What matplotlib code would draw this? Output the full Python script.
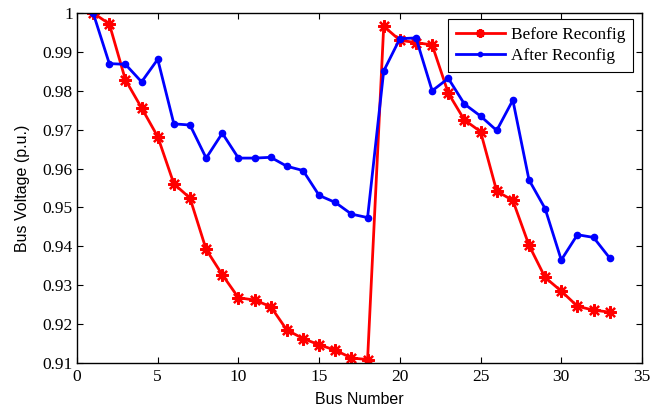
import numpy as np
import matplotlib.pyplot as plt

bus = list(range(1, 34))
before = [1.0000, 0.9972, 0.9828, 0.9756, 0.9682, 0.9561, 0.9524, 0.9392, 0.9327, 0.9268,
          0.9262, 0.9245, 0.9185, 0.9163, 0.9147, 0.9133, 0.9113, 0.9109, 0.9966, 0.9930,
          0.9924, 0.9918, 0.9794, 0.9725, 0.9695, 0.9542, 0.9518, 0.9403, 0.9320, 0.9285,
          0.9246, 0.9236, 0.9231]
after = [1.0000, 0.9870, 0.9868, 0.9823, 0.9881, 0.9715, 0.9712, 0.9627, 0.9691, 0.9627,
         0.9627, 0.9629, 0.9606, 0.9595, 0.9531, 0.9513, 0.9483, 0.9474, 0.9851, 0.9934,
         0.9936, 0.9800, 0.9832, 0.9766, 0.9735, 0.9698, 0.9776, 0.9571, 0.9497, 0.9365,
         0.9430, 0.9423, 0.9370]

xticks = [0, 5, 10, 15, 20, 25, 30, 35]
yticks = [0.91, 0.92, 0.93, 0.94, 0.95, 0.96, 0.97, 0.98, 0.99, 1.0]
ytick_labels = ['0.91', '0.92', '0.93', '0.94', '0.95', '0.96', '0.97', '0.98', '0.99', '1']

fig = plt.figure(figsize=(6.6, 4.07), dpi=100)
ax = fig.add_axes([0.1167, 0.108, 0.856, 0.860])

ax.plot(bus, before, color='red', lw=2, marker=(8, 2, 0), ms=9, mew=1.6, label='Before Reconfig')
ax.plot(bus, after, color='blue', lw=2, marker='o', ms=4.5, label='After Reconfig')

ax.set_xlim(0, 35)
ax.set_ylim(0.91, 1.0)
ax.set_xticks(xticks)
ax.set_xticklabels([str(t) for t in xticks], family='Liberation Serif', fontsize=12.5)
ax.set_yticks(yticks)
ax.set_yticklabels(ytick_labels, family='Liberation Serif', fontsize=12.5)
ax.tick_params(direction='in', top=True, right=True, length=4.5, width=0.8)
ax.tick_params(axis='x', pad=4)
ax.tick_params(axis='y', pad=3)
for s in ax.spines.values():
    s.set_linewidth(1.0)

ax.set_xlabel('Bus Number', family='Liberation Sans', fontsize=11.5, labelpad=5)
ax.set_ylabel('Bus Voltage (p.u.)', family='Liberation Sans', fontsize=11.5, labelpad=9)

leg = ax.legend(loc='upper right', bbox_to_anchor=(633 / 660, 1 - 19 / 407),
                bbox_transform=fig.transFigure, borderaxespad=0,
                prop={'family': 'Liberation Serif', 'size': 12.4},
                fancybox=False, edgecolor='black', framealpha=1, handlelength=2.85,
                handletextpad=0.35, labelspacing=0.3, borderpad=0.45, markerscale=0.7)
leg.get_frame().set_linewidth(0.8)

fig.savefig('out.png', dpi=100)
